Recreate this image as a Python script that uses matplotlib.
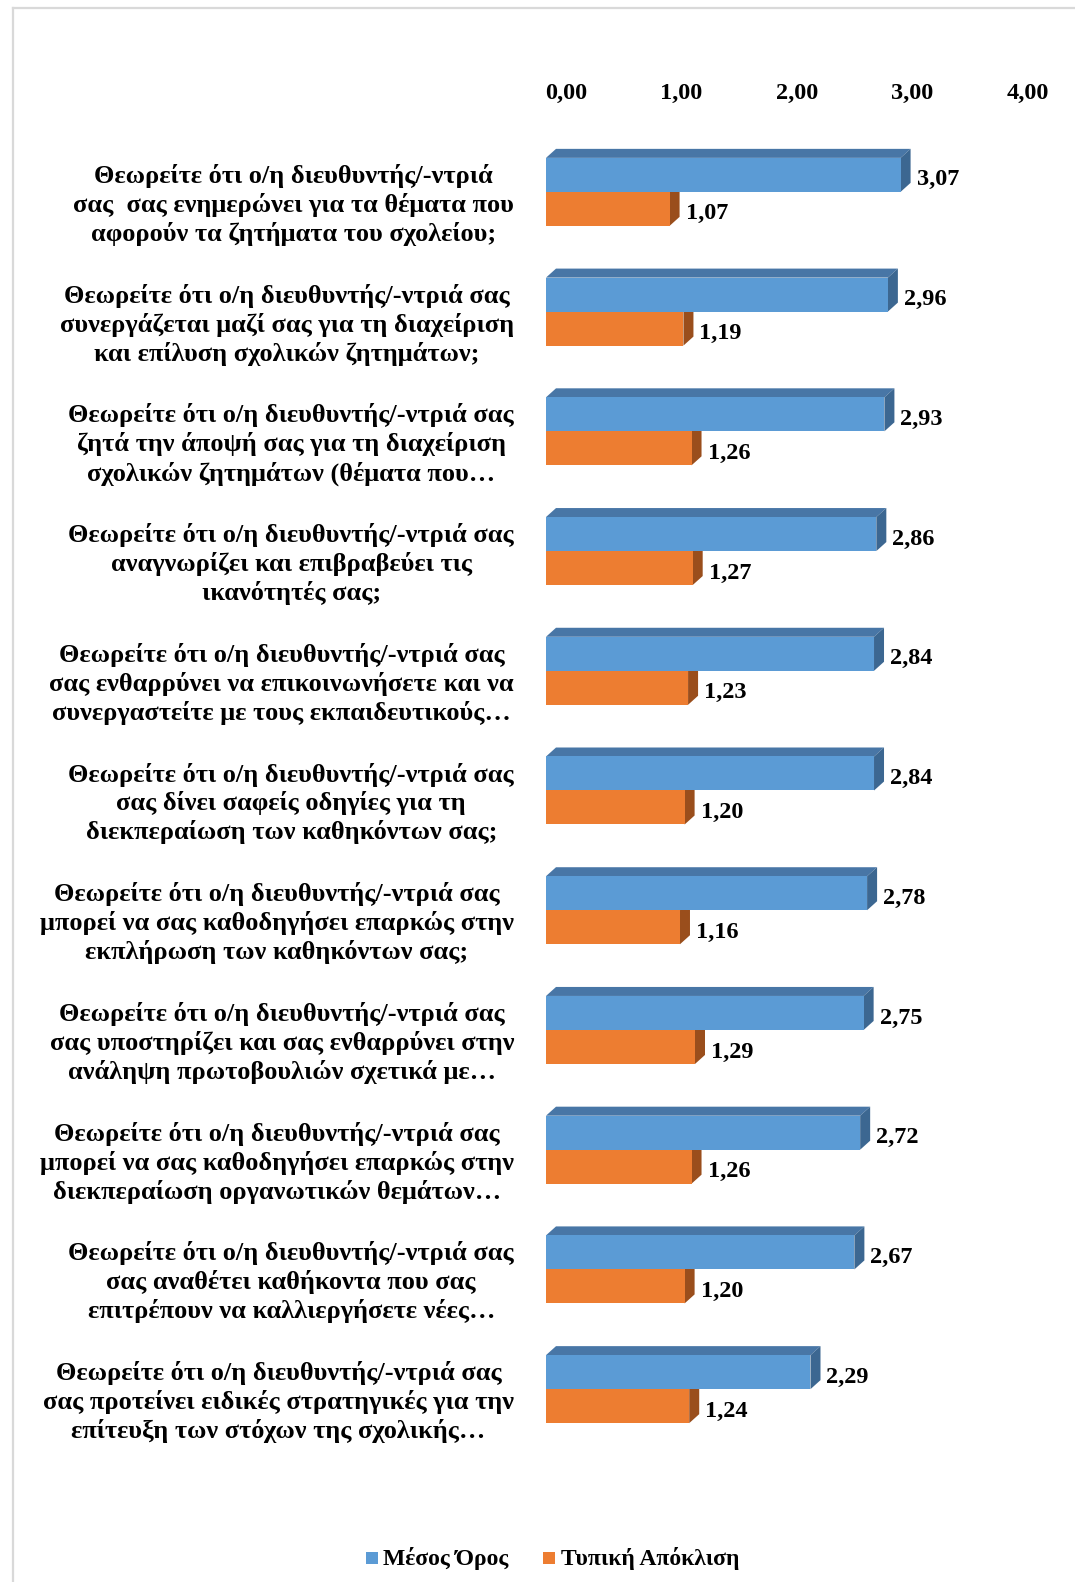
import matplotlib
matplotlib.use("Agg")
import matplotlib.pyplot as plt
from matplotlib.patches import Polygon, Rectangle
from matplotlib.lines import Line2D
from matplotlib.transforms import ScaledTranslation

plt.rcParams['font.family'] = ['Liberation Serif', 'DejaVu Serif']
plt.rcParams['font.weight'] = 'bold'

# ---- data ---------------------------------------------------------------
questions = [
    "Θεωρείτε ότι ο/η διευθυντής/-ντριά\nσας  σας ενημερώνει για τα θέματα που\nαφορούν τα ζητήματα του σχολείου;",
    "Θεωρείτε ότι ο/η διευθυντής/-ντριά σας\nσυνεργάζεται μαζί σας για τη διαχείριση\nκαι επίλυση σχολικών ζητημάτων;",
    "Θεωρείτε ότι ο/η διευθυντής/-ντριά σας\nζητά την άποψή σας για τη διαχείριση\nσχολικών ζητημάτων (θέματα που…",
    "Θεωρείτε ότι ο/η διευθυντής/-ντριά σας\nαναγνωρίζει και επιβραβεύει τις\nικανότητές σας;",
    "Θεωρείτε ότι ο/η διευθυντής/-ντριά σας\nσας ενθαρρύνει να επικοινωνήσετε και να\nσυνεργαστείτε με τους εκπαιδευτικούς…",
    "Θεωρείτε ότι ο/η διευθυντής/-ντριά σας\nσας δίνει σαφείς οδηγίες για τη\nδιεκπεραίωση των καθηκόντων σας;",
    "Θεωρείτε ότι ο/η διευθυντής/-ντριά σας\nμπορεί να σας καθοδηγήσει επαρκώς στην\nεκπλήρωση των καθηκόντων σας;",
    "Θεωρείτε ότι ο/η διευθυντής/-ντριά σας\nσας υποστηρίζει και σας ενθαρρύνει στην\nανάληψη πρωτοβουλιών σχετικά με…",
    "Θεωρείτε ότι ο/η διευθυντής/-ντριά σας\nμπορεί να σας καθοδηγήσει επαρκώς στην\nδιεκπεραίωση οργανωτικών θεμάτων…",
    "Θεωρείτε ότι ο/η διευθυντής/-ντριά σας\nσας αναθέτει καθήκοντα που σας\nεπιτρέπουν να καλλιεργήσετε νέες…",
    "Θεωρείτε ότι ο/η διευθυντής/-ντριά σας\nσας προτείνει ειδικές στρατηγικές για την\nεπίτευξη των στόχων της σχολικής…",
]
mean_values = [3.07, 2.96, 2.93, 2.86, 2.84, 2.84, 2.78, 2.75, 2.72, 2.67, 2.29]
std_values = [1.07, 1.19, 1.26, 1.27, 1.23, 1.20, 1.16, 1.29, 1.26, 1.20, 1.24]
series_names = ["Μέσος Όρος", "Τυπική Απόκλιση"]
x_ticks = [0, 1, 2, 3, 4]

# ---- styling --------------------------------------------------------------
front_colors = ["#5B9BD5", "#ED7D31"]
top_colors = ["#4876A6", "#B5602A"]
side_colors = ["#3C6791", "#9A4E1C"]

W, H, DPI = 1075, 1582, 100
fig = plt.figure(figsize=(W / DPI, H / DPI), dpi=DPI)

# axes geometry in pixels
ax_left, ax_right = 546, 1008
ax_top, ax_bottom = 132, 1449
ax = fig.add_axes([ax_left / W, 1 - ax_bottom / H,
                   (ax_right - ax_left) / W, (ax_bottom - ax_top) / H])

n = len(questions)
ax.set_xlim(0, 4)
ax.set_ylim(n - 0.5, -0.5)

px_x = 4 / (ax_right - ax_left)          # data units per pixel (x)
px_y = n / (ax_bottom - ax_top)          # data units per pixel (y)
depth_dx = 10 * px_x
depth_dy = 9 * px_y
bar_h = 34 * px_y

positions = list(range(n))


def bar3d(values, offset, i_color, z):
    centers = [p + offset for p in positions]
    ax.barh(centers, values, height=bar_h, color=front_colors[i_color],
            edgecolor="none", zorder=z + 0.5)
    for c, v in zip(centers, values):
        yt = c - bar_h / 2
        yb = c + bar_h / 2
        top = Polygon([(0, yt), (v, yt), (v + depth_dx, yt - depth_dy),
                       (depth_dx, yt - depth_dy)], closed=True,
                      facecolor=top_colors[i_color], edgecolor="none",
                      zorder=z, clip_on=False)
        side = Polygon([(v, yt), (v + depth_dx, yt - depth_dy),
                        (v + depth_dx, yb - depth_dy), (v, yb)], closed=True,
                       facecolor=side_colors[i_color], edgecolor="none",
                       zorder=z, clip_on=False)
        ax.add_patch(top)
        ax.add_patch(side)
        ax.annotate(f"{v:.2f}".replace(".", ","), xy=(v, c),
                    xytext=(16, -5), textcoords="offset pixels",
                    ha="left", va="center", fontsize=17.5, fontweight="bold",
                    color="black", annotation_clip=False, zorder=6)


# orange (standard deviation) sits below, drawn first so blue covers its top
bar3d(std_values, bar_h / 2, 1, 2)
bar3d(mean_values, -bar_h / 2, 0, 4)

# top value axis
ax.xaxis.tick_top()
ax.set_xticks(x_ticks)
ax.set_xticklabels([f"{t:.2f}".replace(".", ",") for t in x_ticks],
                   fontsize=17.5, fontweight="bold")
ax.tick_params(axis="x", length=0, pad=20)
for lab in ax.get_xticklabels():
    lab.set_transform(lab.get_transform() + ScaledTranslation(20 / DPI, 0, fig.dpi_scale_trans))

# category labels
ax.set_yticks(positions)
ax.set_yticklabels(questions, fontsize=19, fontweight="bold",
                   linespacing=1.26, multialignment="center")
ax.tick_params(axis="y", length=0, pad=23)
for lab in ax.get_yticklabels():
    lab.set_transform(lab.get_transform() + ScaledTranslation(0, -8 / DPI, fig.dpi_scale_trans))

for s in ax.spines.values():
    s.set_visible(False)
ax.set_facecolor("none")

# chart area border (top and left edges)
fig.add_artist(Line2D([12.5 / W, 12.5 / W], [1 - 7.7 / H, 0], color="#D9D9D9",
                      lw=1.6, transform=fig.transFigure))
fig.add_artist(Line2D([12.5 / W, 1], [1 - 7.7 / H, 1 - 7.7 / H], color="#D9D9D9",
                      lw=1.6, transform=fig.transFigure))

# legend
legend_items = [(366, 383), (543, 561)]
for (sq_x, tx), name, col in zip(legend_items, series_names, front_colors):
    fig.add_artist(Rectangle((sq_x / W, 1 - 1564 / H), 12 / W, 12 / H,
                             transform=fig.transFigure, facecolor=col,
                             edgecolor="none"))
    fig.text(tx / W, 1 - 1559 / H, name, ha="left", va="center",
             fontsize=17, fontweight="bold")

fig.savefig("out.png", dpi=DPI)
